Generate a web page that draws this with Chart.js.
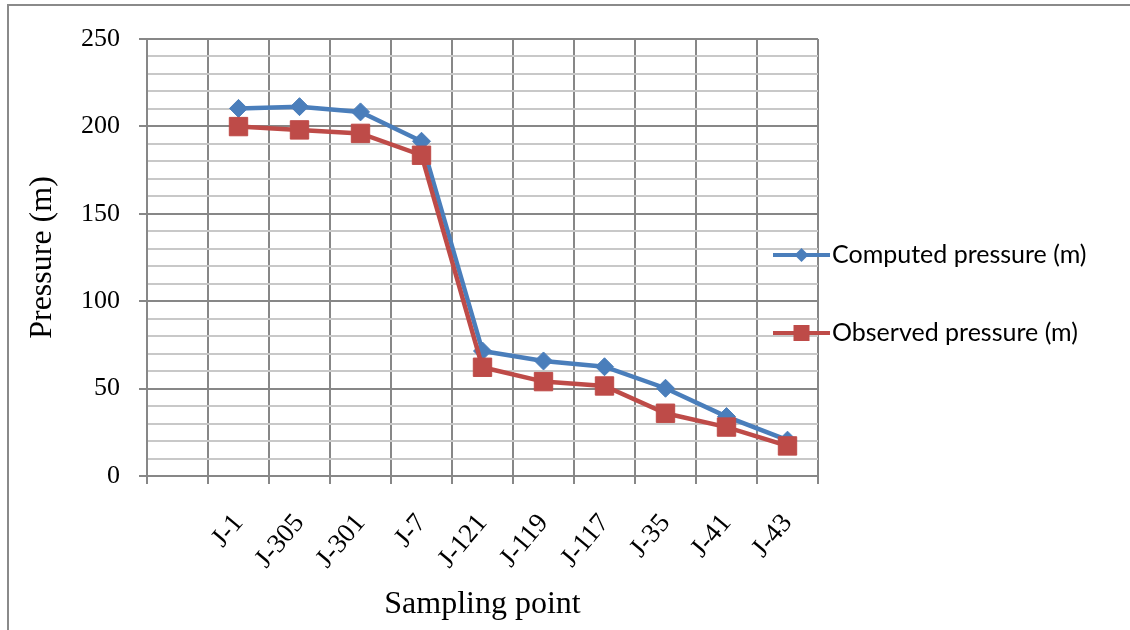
<!DOCTYPE html>
<html>
<head>
<meta charset="utf-8">
<script src="https://cdn.jsdelivr.net/npm/chart.js@4/dist/chart.umd.min.js"></script>
<style>
  html, body { margin: 0; padding: 0; background: #ffffff; }
  #wrap { width: 1130px; height: 630px; position: relative; }
</style>
</head>
<body>
<div id="wrap"><canvas id="c" width="1130" height="630"></canvas></div>
<script>
const categories = ['', 'J-1', 'J-305', 'J-301', 'J-7', 'J-121', 'J-119', 'J-117', 'J-35', 'J-41', 'J-43'];
const computedPressure = [null, 210.3, 211.3, 208.3, 191.5, 71.5, 65.8, 62.5, 50.2, 34.0, 20.5];
const observedPressure = [null, 199.9, 198.0, 196.0, 183.5, 62.2, 54.0, 51.5, 35.9, 28.0, 17.2];
const yMajorStep = 50;
const yMinorStep = 10;
const yMax = 250;

const BLUE = '#4a7ebb';
const RED = '#be4b48';
const GRID_DARK = '#878787';
const GRID_LIGHT = '#c8c8c8';

const framePlugin = {
  id: 'frame',
  beforeDraw(chart) {
    const ctx = chart.ctx;
    ctx.save();
    ctx.fillStyle = '#ffffff';
    ctx.fillRect(0, 0, chart.width, chart.height);
    ctx.strokeStyle = '#8a8a8a';
    ctx.lineWidth = 2;
    ctx.beginPath();
    ctx.moveTo(8, chart.height);
    ctx.lineTo(8, 5);
    ctx.lineTo(chart.width, 5);
    ctx.stroke();
    ctx.restore();
  }
};

const legendPlugin = {
  id: 'customLegend',
  afterDraw(chart) {
    const ctx = chart.ctx;
    const area = chart.chartArea;
    const lineStart = area.right - 45;
    const lineEnd = area.right + 12;
    const ys = [255, 333];
    ctx.save();
    chart.data.datasets.forEach((ds, i) => {
      const y = ys[i];
      ctx.strokeStyle = ds.borderColor;
      ctx.lineWidth = 4;
      ctx.beginPath();
      ctx.moveTo(lineStart, y);
      ctx.lineTo(lineEnd, y);
      ctx.stroke();
      const cx = (lineStart + lineEnd) / 2;
      ctx.fillStyle = ds.backgroundColor;
      ctx.beginPath();
      if (ds.pointStyle === 'rectRot') {
        const r = 7;
        ctx.moveTo(cx - r, y); ctx.lineTo(cx, y - r); ctx.lineTo(cx + r, y); ctx.lineTo(cx, y + r);
        ctx.closePath();
      } else {
        const s = 8;
        ctx.rect(cx - s, y - s, 2 * s, 2 * s);
      }
      ctx.fill();
      ctx.fillStyle = '#000000';
      ctx.font = '25px Lato, "Open Sans", sans-serif';
      ctx.textBaseline = 'middle';
      ctx.textAlign = 'left';
      ctx.fillText(ds.label, lineEnd + 2, y);
    });
    ctx.restore();
  }
};

new Chart(document.getElementById('c'), {
  type: 'line',
  data: {
    labels: categories,
    datasets: [
      {
        label: 'Computed pressure (m)',
        data: computedPressure,
        borderColor: BLUE,
        backgroundColor: BLUE,
        borderWidth: 4.5,
        pointStyle: 'rectRot',
        pointRadius: 9,
        pointBorderWidth: 1,
        pointBorderColor: BLUE,
        tension: 0,
        order: 2
      },
      {
        label: 'Observed pressure (m)',
        data: observedPressure,
        borderColor: RED,
        backgroundColor: RED,
        borderWidth: 4.5,
        pointStyle: 'rect',
        pointRadius: 13,
        pointBorderWidth: 1,
        pointBorderColor: RED,
        tension: 0,
        order: 1
      }
    ]
  },
  options: {
    responsive: false,
    animation: false,
    layout: { padding: { left: 0, right: 312, top: 39, bottom: 0 } },
    plugins: {
      legend: { display: false },
      tooltip: { enabled: false }
    },
    scales: {
      x: {
        type: 'category',
        offset: true,
        afterFit(scale) { scale.height = 154; },
        grid: {
          offset: true,
          color: GRID_DARK,
          lineWidth: 2,
          tickLength: 8,
          tickColor: GRID_DARK,
          tickWidth: 2
        },
        border: { color: GRID_DARK, width: 2 },
        ticks: {
          autoSkip: false,
          minRotation: 50,
          maxRotation: 50,
          padding: 24,
          color: '#000000',
          font: { family: '"Liberation Serif", "Times New Roman", serif', size: 27 }
        },
        title: {
          display: true,
          text: 'Sampling point',
          color: '#000000',
          font: { family: '"Liberation Serif", "Times New Roman", serif', size: 32 },
          padding: { top: 0, bottom: 6 }
        }
      },
      y: {
        min: 0,
        max: yMax,
        afterFit(scale) { scale.width = 147; },
        grid: {
          color: (c) => (c.tick && c.tick.value % yMajorStep === 0) ? GRID_DARK : GRID_LIGHT,
          lineWidth: 2,
          tickLength: 8,
          tickColor: (c) => (c.tick && c.tick.value % yMajorStep === 0) ? GRID_DARK : 'rgba(0,0,0,0)',
          tickWidth: 2
        },
        border: { color: GRID_DARK, width: 2 },
        ticks: {
          stepSize: yMinorStep,
          autoSkip: false,
          padding: 19,
          color: '#000000',
          font: { family: '"Liberation Serif", "Times New Roman", serif', size: 26 },
          callback: (v) => (v % yMajorStep === 0 ? String(v) : '')
        },
        title: {
          display: true,
          text: 'Pressure (m)',
          color: '#000000',
          font: { family: '"Liberation Serif", "Times New Roman", serif', size: 32 },
          padding: { top: 23, bottom: 0 }
        }
      }
    }
  },
  plugins: [framePlugin, legendPlugin]
});
</script>
</body>
</html>
